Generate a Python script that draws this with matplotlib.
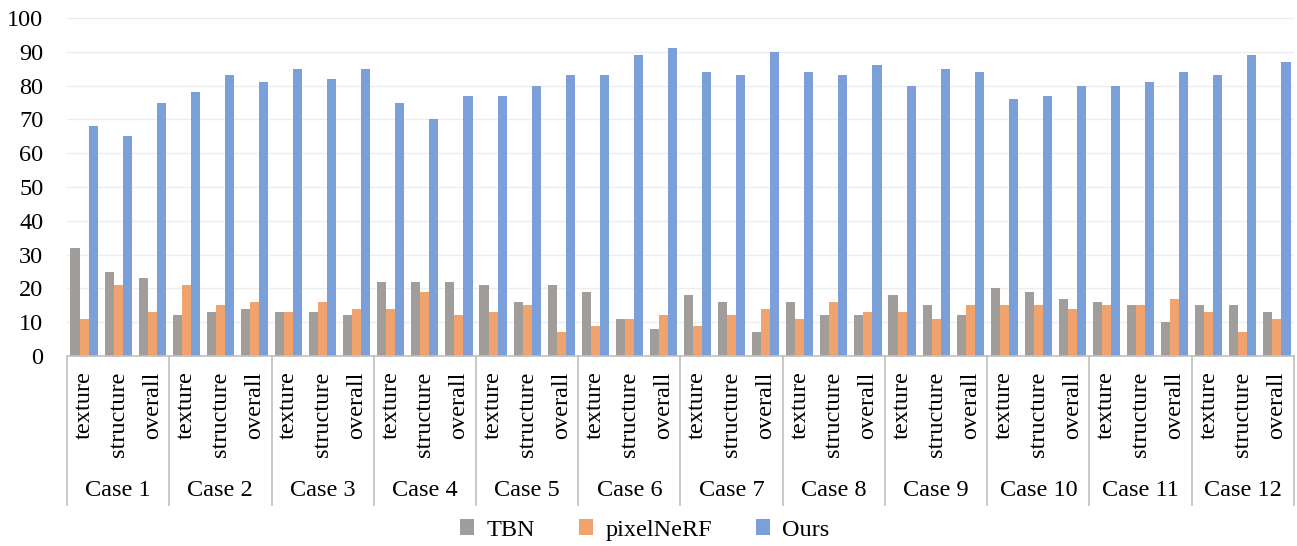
import matplotlib
matplotlib.use("Agg")
import matplotlib.pyplot as plt
import matplotlib.transforms as mtransforms
import numpy as np

plt.rcParams['font.family'] = ['Liberation Serif', 'DejaVu Serif']

# data
cases = ["Case %d" % i for i in range(1, 13)]
subs = ["texture", "structure", "overall"]

tbn = [32, 25, 23, 12, 13, 14, 13, 13, 12, 22, 22, 22,
       21, 16, 21, 19, 11, 8, 18, 16, 7, 16, 12, 12,
       18, 15, 12, 20, 19, 17, 16, 15, 10, 15, 15, 13]
pixelnerf = [11, 21, 13, 21, 15, 16, 13, 16, 14, 14, 19, 12,
             13, 15, 7, 9, 11, 12, 9, 12, 14, 11, 16, 13,
             13, 11, 15, 15, 15, 14, 15, 15, 17, 13, 7, 11]
ours = [68, 65, 75, 78, 83, 81, 85, 82, 85, 75, 70, 77,
        77, 80, 83, 83, 89, 91, 84, 83, 90, 84, 83, 86,
        80, 85, 84, 76, 77, 80, 80, 81, 84, 83, 89, 87]

series = [("TBN", tbn, "#A09D9B"),
          ("pixelNeRF", pixelnerf, "#F1A36E"),
          ("Ours", ours, "#7B9FD9")]

fig = plt.figure(figsize=(12.97, 5.46), dpi=100)
ax = fig.add_axes([67/1297, 190/546, 1227/1297, 338/546])

x = np.arange(len(tbn))
w = 0.265
for k, (name, vals, col) in enumerate(series):
    ax.bar(x + (k - 1) * w, vals, w, color=col, label=name, zorder=2)

ax.set_xlim(-0.5, len(tbn) - 0.5)
ax.set_ylim(0, 100)
ax.set_yticks(range(0, 101, 10))
ax.tick_params(axis='y', length=0, labelsize=17.5, pad=17)
ax.set_xticks([])
ax.grid(axis='y', color='#EDEDED', linewidth=1, zorder=0)
for s in ['top', 'right', 'left']:
    ax.spines[s].set_visible(False)
ax.spines['bottom'].set_color('#BFBFBF')
ax.spines['bottom'].set_linewidth(1.2)

trans = mtransforms.blended_transform_factory(ax.transData, ax.transAxes)
for i in range(len(tbn)):
    ax.text(i, -0.045, subs[i % 3], rotation=90, ha='center', va='top',
            fontsize=17.5, transform=trans)
for c in range(len(cases)):
    ax.text(c * 3 + 1, -0.398, cases[c], ha='center', va='center',
            fontsize=17.5, transform=trans)
for c in range(len(cases) + 1):
    ax.plot([c * 3 - 0.5, c * 3 - 0.5], [0, -0.44], color='#BFBFBF',
            linewidth=1.2, transform=trans, clip_on=False)

ax.legend(loc='center', bbox_to_anchor=(0.497, 16/546), bbox_transform=fig.transFigure,
          ncol=3, frameon=False, fontsize=17.5, handlelength=0.6, handleheight=0.6,
          handletextpad=0.5, columnspacing=1.8, borderaxespad=0)

fig.savefig("out.png", dpi=100)
